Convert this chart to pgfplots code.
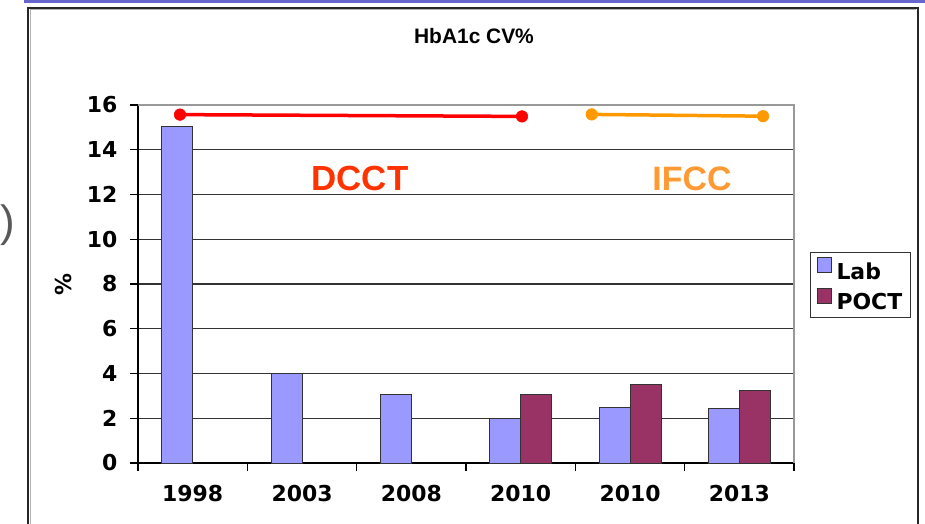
\documentclass[border=0pt]{standalone}
\usepackage{pgfplots}
\pgfplotsset{compat=1.18}
\usepackage{fontspec}
\setmainfont{DejaVu Sans}
\newfontfamily\arial{Liberation Sans}
\definecolor{lab}{HTML}{9999FF}
\definecolor{poct}{HTML}{993366}
\definecolor{slideblue}{HTML}{6666CC}
\definecolor{dcctc}{HTML}{FF3300}
\definecolor{ifccc}{HTML}{FF9933}
\definecolor{redline}{HTML}{FF0000}
\definecolor{orline}{HTML}{FF9900}
\begin{document}
\begin{tikzpicture}[x=1bp,y=1bp]
\useasboundingbox (0,0) rectangle (925,-524);
\clip (0,0) rectangle (925,-524);
\fill[white] (0,0) rectangle (925,-524);
\fill[slideblue] (24,-0.5) rectangle (925,-3.5);
\draw[line width=1.6bp, black!85] (28,-600) -- (28,-8) -- (918,-8) -- (918,-600);
\draw[line width=1bp, black!30] (30,-600) -- (30,-10) -- (916,-10);
\node[anchor=west, text=black!65, font=\arial\fontsize{44}{50}\selectfont, inner sep=0pt] at (0.5,-225) {)};
\node[font=\arial\bfseries\fontsize{21}{25}\selectfont] at (474,-36.5) {HbA1c CV\%};
\node[rotate=90, font=\bfseries\fontsize{22}{26}\selectfont] at (64,-285) {\%};
\begin{axis}[
  at={(138bp,-463bp)}, anchor=south west,
  scale only axis, width=656bp, height=358bp,
  xmin=-0.5, xmax=5.5, ymin=0, ymax=16,
  clip=false,
  axis x line*=bottom, axis y line*=left,
  axis line style={-, black, line width=1.2bp},
  tick align=outside, major tick length=8bp,
  tick style={black, line width=1.2bp},
  ytick={0,2,...,16},
  ymajorgrids, grid style={black!80, line width=1.2bp},
  xtick={-0.5,0.5,1.5,2.5,3.5,4.5,5.5}, xticklabels={,,,,,,},
  extra x ticks={0,1,2,3,4,5},
  extra x tick labels={1998,2003,2008,2010,2010,2013},
  extra x tick style={major tick length=0pt, grid=none},
  xticklabel style={font=\bfseries\fontsize{22}{26}\selectfont, yshift=-19bp},
  yticklabel style={font=\bfseries\fontsize{22}{26}\selectfont, xshift=-9bp},
  /pgf/number format/assume math mode=true,
  legend style={at={(axis description cs:1.0244,0.589)}, anchor=north west,
    draw=black!80, line width=1bp, font=\bfseries\fontsize{22}{26}\selectfont,
    inner xsep=6bp, inner ysep=4.5bp, row sep=5bp,
    /tikz/every odd column/.append style={column sep=3bp}},
  legend cell align=left,
  legend image code/.code={\draw[#1] (3bp,-1bp) rectangle (17bp,14bp);},
]
\addplot[ybar, bar width=31bp, bar shift=-15.5bp, fill=lab, draw=black!80, line width=1bp]
  coordinates {(0,15.05) (1,4.0) (2,3.05) (3,2.0) (4,2.5) (5,2.45)};
\addlegendentry{Lab}
\addplot[ybar, bar width=31bp, bar shift=15.5bp, fill=poct, draw=black!80, line width=1bp]
  coordinates {(3,3.05) (4,3.5) (5,3.22)};
\addlegendentry{POCT}
\addplot[redline, line width=3.5bp, mark=*, mark size=5.8bp, mark options={line width=0.5bp, fill=redline}, forget plot]
  coordinates {(-0.116,15.57) (3.012,15.49)};
\addplot[orline, line width=3.5bp, mark=*, mark size=5.8bp, mark options={line width=0.5bp, fill=orline}, forget plot]
  coordinates {(3.65,15.58) (5.217,15.5)};
\draw[black!40, line width=1.2bp] (rel axis cs:0,1) -- (rel axis cs:1,1) -- (rel axis cs:1,0);
\node[text=dcctc, font=\arial\bfseries\fontsize{35}{40}\selectfont] at (axis cs:1.53,12.72) {DCCT};
\node[text=ifccc, font=\arial\bfseries\fontsize{34}{40}\selectfont] at (axis cs:4.567,12.72) {IFCC};
\end{axis}
\end{tikzpicture}
\end{document}
